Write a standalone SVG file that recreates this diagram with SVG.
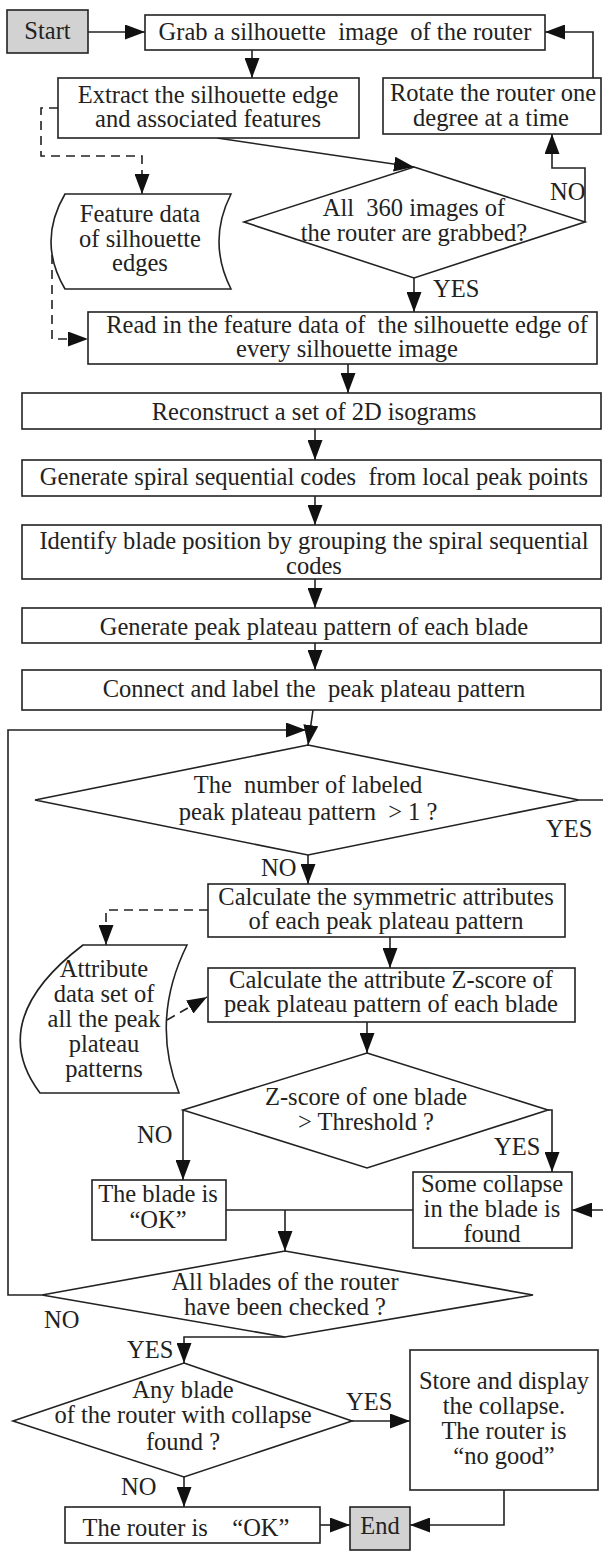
<svg xmlns="http://www.w3.org/2000/svg" width="603" height="1552" viewBox="0 0 603 1552">
<defs>
<style>
.b{fill:#fff;stroke:#222;stroke-width:1.6}
.g{fill:#d2d2d2;stroke:#222;stroke-width:1.6}
text{font-family:"Liberation Serif","Times New Roman",serif;font-size:24.5px;fill:#222;text-anchor:middle;white-space:pre}
.l{text-anchor:start}
.c{fill:none;stroke:#222;stroke-width:1.6}
.d{fill:none;stroke:#222;stroke-width:1.6;stroke-dasharray:9 6}
</style>
<marker id="a" markerUnits="userSpaceOnUse" markerWidth="20" markerHeight="15" refX="20" refY="7.5" orient="auto">
<path d="M0,0 L20,7.5 L0,15 z" fill="#111"/>
</marker>
</defs>
<g id="connectors">
<path class="c" d="M88,32 H145" marker-end="url(#a)"/>
<path class="c" d="M252,50 V78" marker-end="url(#a)"/>
<path class="c" d="M217,138 L414,167" marker-end="url(#a)"/>
<path class="c" d="M585,222 V168 H552 V134" marker-end="url(#a)"/>
<path class="c" d="M593,78 V32 H545" marker-end="url(#a)"/>
<path class="d" d="M58,108 H41 V156 H142 V194" marker-end="url(#a)"/>
<path class="d" d="M52,255 V339 H88" marker-end="url(#a)"/>
<path class="c" d="M414,278 V312" marker-end="url(#a)"/>
<path class="c" d="M348,364 V393" marker-end="url(#a)"/>
<path class="c" d="M315,429 V460" marker-end="url(#a)"/>
<path class="c" d="M315,496 V525" marker-end="url(#a)"/>
<path class="c" d="M315,579 V608" marker-end="url(#a)"/>
<path class="c" d="M315,643 V670" marker-end="url(#a)"/>
<path class="c" d="M313,710 L308,745" marker-end="url(#a)"/>
<path class="c" d="M579,800 H615 V1210 H572" marker-end="url(#a)"/>
<path class="c" d="M308,855 V884" marker-end="url(#a)"/>
<path class="d" d="M208,910 H106 V945" marker-end="url(#a)"/>
<path class="c" d="M390,937 V968" marker-end="url(#a)"/>
<path class="d" d="M167,1020 L207,997" marker-end="url(#a)"/>
<path class="c" d="M367,1022 V1053" marker-end="url(#a)"/>
<path class="c" d="M183,1110 V1180" marker-end="url(#a)"/>
<path class="c" d="M548,1110 H552 V1172" marker-end="url(#a)"/>
<path class="c" d="M226,1210 H413"/>
<path class="c" d="M285,1210 V1251" marker-end="url(#a)"/>
<path class="c" d="M42,1295 H8 V730 H306" marker-end="url(#a)"/>
<path class="c" d="M285,1337 H184 V1363" marker-end="url(#a)"/>
<path class="c" d="M352,1421 H410" marker-end="url(#a)"/>
<path class="c" d="M184,1477 V1507" marker-end="url(#a)"/>
<path class="c" d="M320,1525 H350" marker-end="url(#a)"/>
<path class="c" d="M504,1490 V1525 H410" marker-end="url(#a)"/>
<text class="l" x="550" y="200">NO</text>
<text class="l" x="433" y="297">YES</text>
<text class="l" x="546" y="837">YES</text>
<text class="l" x="261" y="876">NO</text>
<text class="l" x="137" y="1143">NO</text>
<text class="l" x="494" y="1155">YES</text>
<text class="l" x="44" y="1328">NO</text>
<text class="l" x="127" y="1358">YES</text>
<text class="l" x="346" y="1410">YES</text>
<text class="l" x="121" y="1495">NO</text>
</g>
<g id="start"><rect class="g" x="7" y="10" width="81" height="43"/><text x="47.5" y="39">Start</text></g>
<g id="grab"><rect class="b" x="145" y="15" width="400" height="35"/><text x="345" y="40">Grab a silhouette  image  of the router</text></g>
<g id="extract"><rect class="b" x="58" y="78" width="301" height="60"/><text x="208" y="103">Extract the silhouette edge</text><text x="208" y="127">and associated features</text></g>
<g id="rotate"><rect class="b" x="383" y="78" width="218" height="56"/><text x="493" y="101">Rotate the router one</text><text x="491" y="126">degree at a time</text></g>
<g id="d1"><path class="b" d="M414,167 L585,222 L414,278 L244,222 Z"/><text x="414" y="216">All  360 images of</text><text x="414" y="241">the router are grabbed?</text></g>
<g id="feature"><path class="b" d="M65,194 L231,194 Q207,241.5 231,289 L65,289 Q37,241.5 65,194 Z"/><text x="140" y="222">Feature data</text><text x="140" y="247">of silhouette</text><text x="140" y="271">edges</text></g>
<g id="read"><rect class="b" x="88" y="312" width="509" height="52"/><text x="347" y="333">Read in the feature data of  the silhouette edge of</text><text x="347" y="357">every silhouette image</text></g>
<g id="reconstruct"><rect class="b" x="22" y="393" width="579" height="36"/><text x="314" y="420">Reconstruct a set of 2D isograms</text></g>
<g id="spiral"><rect class="b" x="22" y="460" width="579" height="36"/><text x="314" y="485">Generate spiral sequential codes  from local peak points</text></g>
<g id="identify"><rect class="b" x="22" y="525" width="579" height="54"/><text x="314" y="549">Identify blade position by grouping the spiral sequential</text><text x="314" y="574">codes</text></g>
<g id="peakgen"><rect class="b" x="22" y="608" width="579" height="35"/><text x="314" y="635">Generate peak plateau pattern of each blade</text></g>
<g id="connect"><rect class="b" x="22" y="670" width="579" height="40"/><text x="314" y="697">Connect and label the  peak plateau pattern</text></g>
<g id="d2"><path class="b" d="M308,745 L579,800 L308,855 L35,800 Z"/><text x="308" y="793">The  number of labeled</text><text x="308" y="820">peak plateau pattern  &gt; 1 ?</text></g>
<g id="sym"><rect class="b" x="208" y="884" width="357" height="53"/><text x="386" y="905">Calculate the symmetric attributes</text><text x="386" y="929">of each peak plateau pattern</text></g>
<g id="attribute"><path class="b" d="M83,945 L187,945 Q150,1020 179,1093 L40,1093 Q-15,1020 83,945 Z"/><text x="104" y="977">Attribute</text><text x="104" y="1002">data set of</text><text x="104" y="1027">all the peak</text><text x="104" y="1052">plateau</text><text x="104" y="1077">patterns</text></g>
<g id="zscore"><rect class="b" x="208" y="968" width="367" height="54"/><text x="391" y="988">Calculate the attribute Z-score of</text><text x="391" y="1012">peak plateau pattern of each blade</text></g>
<g id="d3"><path class="b" d="M367,1053 L548,1110 L367,1168 L183,1110 Z"/><text x="366" y="1105">Z-score of one blade</text><text x="366" y="1130">&gt; Threshold ?</text></g>
<g id="bladeok"><rect class="b" x="92" y="1180" width="134" height="60"/><text x="158" y="1202">The blade is</text><text x="158" y="1228">“OK”</text></g>
<g id="collapse"><rect class="b" x="413" y="1172" width="159" height="76"/><text x="492" y="1192">Some collapse</text><text x="492" y="1217">in the blade is</text><text x="492" y="1242">found</text></g>
<g id="d4"><path class="b" d="M285,1251 L533,1295 L285,1337 L42,1295 Z"/><text x="285" y="1290">All blades of the router</text><text x="285" y="1315">have been checked ?</text></g>
<g id="d5"><path class="b" d="M184,1363 L352,1421 L184,1477 L13,1421 Z"/><text x="183" y="1398">Any blade</text><text x="183" y="1423">of the router with collapse</text><text x="183" y="1450">found ?</text></g>
<g id="store"><rect class="b" x="410" y="1350" width="188" height="140"/><text x="504" y="1389">Store and display</text><text x="504" y="1414">the collapse.</text><text x="504" y="1439">The router is</text><text x="504" y="1464">“no good”</text></g>
<g id="routerok"><rect class="b" x="65" y="1507" width="255" height="36"/><text x="186" y="1536">The router is    “OK”</text></g>
<g id="end"><rect class="g" x="350" y="1507" width="60" height="43"/><text x="380" y="1534">End</text></g>
</svg>
